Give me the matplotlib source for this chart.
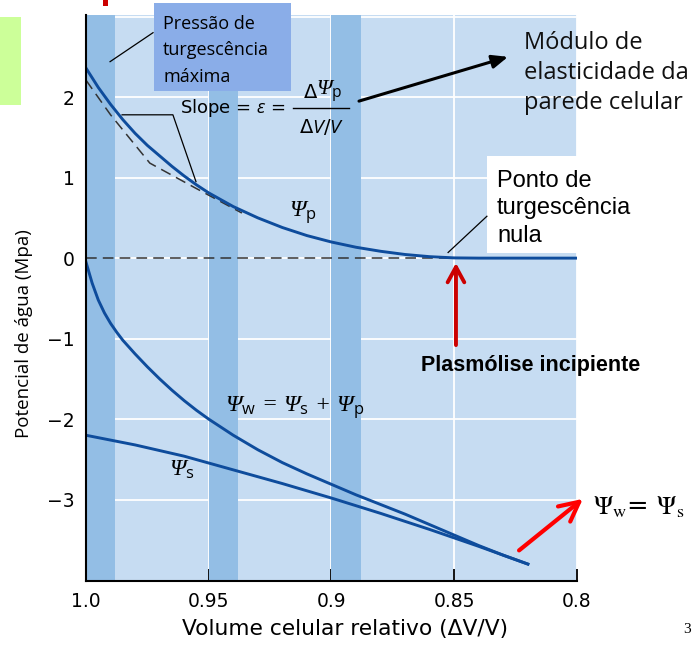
import matplotlib
matplotlib.use("Agg")
import matplotlib.pyplot as plt
from matplotlib.patches import Rectangle

plt.rcParams["font.family"] = ["DejaVu Sans"]
plt.rcParams["mathtext.fontset"] = "custom"
plt.rcParams["mathtext.rm"] = "Open Sans"
plt.rcParams["mathtext.it"] = "Open Sans:italic"
plt.rcParams["mathtext.bf"] = "Open Sans:bold"

# === Dados ===
vol_p = [1.0, 0.995, 0.99, 0.985, 0.98, 0.975, 0.97, 0.965, 0.96, 0.955, 0.95,
         0.94, 0.93, 0.92, 0.91, 0.90, 0.89, 0.88, 0.87, 0.86, 0.85, 0.84, 0.80]
psi_p = [2.36, 2.12, 1.91, 1.72, 1.55, 1.40, 1.27, 1.14, 1.02, 0.91, 0.81,
         0.64, 0.50, 0.38, 0.28, 0.20, 0.135, 0.085, 0.045, 0.018, 0.003, 0.0, 0.0]

vol_w = [1.0, 0.9975, 0.995, 0.9925, 0.99, 0.9875, 0.985, 0.98, 0.975, 0.97, 0.965,
         0.96, 0.955, 0.95, 0.94, 0.93, 0.92, 0.91, 0.90, 0.89, 0.88, 0.87, 0.86,
         0.85, 0.84, 0.83, 0.82]
psi_w = [-0.05, -0.31, -0.52, -0.68, -0.81, -0.92, -1.02, -1.19, -1.35, -1.50, -1.64,
         -1.77, -1.89, -2.0, -2.20, -2.38, -2.54, -2.68, -2.81, -2.94, -3.06, -3.18,
         -3.31, -3.44, -3.57, -3.69, -3.80]

vol_s = [1.0, 0.98, 0.96, 0.94, 0.92, 0.90, 0.88, 0.86, 0.84, 0.82]
psi_s = [-2.20, -2.32, -2.46, -2.63, -2.80, -2.98, -3.17, -3.37, -3.58, -3.80]

# tangente tracejada (slope)
vol_tan = [1.0, 0.990, 0.974, 0.956, 0.9365]
psi_tan = [2.21, 1.78, 1.18, 0.88, 0.56]

# linha do zero (tracejada)
vol_zero = [1.0, 0.85]
psi_zero = [0.0, 0.0]

band_starts = [1.0, 0.95, 0.90]
band_width = 0.012

x_ticks = [1.0, 0.95, 0.9, 0.85, 0.8]
x_labels = ["1.0", "0.95", "0.9", "0.85", "0.8"]
y_ticks = [-3, -2, -1, 0, 1, 2, 3]
y_labels = ["\u22123", "\u22122", "\u22121", "0", "1", "2", ""]

# === Cores ===
bg = "#C6DCF2"
band = "#93BEE5"
curve = "#0E4C9C"
box_blue = "#8AADE8"

fig = plt.figure(figsize=(6.93, 6.48), dpi=100)
ax = fig.add_axes([0.1241, 0.1034, 0.7085, 0.8735])
ax.set_facecolor(bg)
ax.set_xlim(1.0, 0.8)
ax.set_ylim(-4.01, 3.02)

ax.grid(color="white", lw=1.3)
ax.set_axisbelow(True)
for b in band_starts:
    ax.axvspan(b - band_width, b, color=band, lw=0, zorder=1)

for s in ["top", "right"]:
    ax.spines[s].set_visible(False)
for s in ["left", "bottom"]:
    ax.spines[s].set_linewidth(1.5)
    ax.spines[s].set_zorder(5)

ax.set_xticks(x_ticks)
ax.set_xticklabels(x_labels)
ax.set_yticks(y_ticks)
ax.set_yticklabels(y_labels)
ax.tick_params(direction="in", length=9, width=1.3, labelsize=13.5, pad=8)

# === Curvas ===
ax.plot(vol_zero, psi_zero, color="#333333", lw=1.1, dashes=(7, 4), zorder=2)
ax.plot(vol_tan, psi_tan, color="#333333", lw=1.1, dashes=(7, 4), zorder=2)
ax.plot(vol_p, psi_p, color=curve, lw=2.1, zorder=3)
ax.plot(vol_w, psi_w, color=curve, lw=2.1, zorder=3)
ax.plot(vol_s, psi_s, color=curve, lw=2.1, zorder=3)

# === Rótulos das curvas ===
psi_font = dict(style="italic", family="Liberation Serif", zorder=4)
ax.text(0.9116, 0.57, "\u03a8$_\\mathrm{p}$", fontsize=17, ha="center", va="center", **psi_font)
ax.text(0.9149, -1.86, "\u03a8$_\\mathrm{w}$ = \u03a8$_\\mathrm{s}$ + \u03a8$_\\mathrm{p}$",
        fontsize=17, ha="center", va="center", **psi_font)
ax.text(0.9609, -2.63, "\u03a8$_\\mathrm{s}$", fontsize=17, ha="center", va="center", **psi_font)

# === Caixa "Pressão de turgescência máxima" ===
ax.add_patch(Rectangle((0.9165, 2.07), 0.0558, 1.10, facecolor=box_blue, edgecolor="none",
                       clip_on=False, zorder=4))
ax.text(0.9686, 2.58, "Pressão de\nturgescência\nmáxima", family="Open Sans", fontsize=13,
        ha="left", va="center", linespacing=1.6, zorder=5, clip_on=False)
ax.plot([0.9902, 0.9727], [2.44, 2.80], color="black", lw=0.9, zorder=4)

# === Slope = epsilon = dPsi_p / (dV/V) ===
ax.text(0.9617, 1.86, r"Slope = $\varepsilon$ =", fontsize=13, ha="left", va="center", zorder=4)
ax.text(0.9060, 2.06, "\u0394", fontsize=14, ha="right", va="center", zorder=4)
ax.text(0.9062, 2.06, "\u03a8$_\\mathrm{p}$", fontsize=16, ha="left", va="center", **psi_font)
ax.plot([0.9157, 0.8928], [1.86, 1.86], color="black", lw=1.0, zorder=4)
ax.text(0.9040, 1.63, "\u0394$V$/$V$", fontsize=14, ha="center", va="center", zorder=4)
ax.plot([0.9853, 0.9646, 0.9552], [1.78, 1.78, 0.95], color="black", lw=0.9, zorder=4)

# === Módulo de elasticidade ===
ax.annotate("", xy=(0.8281, 2.50), xytext=(0.8888, 1.95),
            arrowprops=dict(arrowstyle="-|>,head_length=0.95,head_width=0.4", color="black",
                            lw=2.2, shrinkA=0, shrinkB=0), zorder=5)
ax.text(0.8216, 2.30, "Módulo de\nelasticidade da\nparede celular", family="Open Sans",
        fontsize=17, color="#111111", ha="left", va="center", linespacing=1.32, clip_on=False)

# === Ponto de turgescência nula ===
ax.add_patch(Rectangle((0.77, 0.06), 0.0667, 1.21, facecolor="white", edgecolor="none",
                       clip_on=False, zorder=4))
ax.text(0.8326, 0.62, "Ponto de\nturgescência\nnula", family="Liberation Sans", fontsize=17,
        ha="left", va="center", linespacing=1.33, zorder=5, clip_on=False)
ax.plot([0.8525, 0.8367], [0.07, 0.52], color="black", lw=0.9, zorder=4)

# === Plasmólise incipiente ===
ax.annotate("", xy=(0.8493, -0.06), xytext=(0.8493, -1.08),
            arrowprops=dict(arrowstyle="->,head_length=1.1,head_width=0.6", color="#CC0000",
                            lw=2.8, shrinkA=0, shrinkB=0), zorder=5)
ax.text(0.8187, -1.33, "Plasmólise incipiente", family="Liberation Sans", fontweight="bold",
        fontsize=15.5, ha="center", va="center", zorder=5, clip_on=False)

# === Psi_w = Psi_s ===
ax.annotate("", xy=(0.7976, -2.99), xytext=(0.8236, -3.63),
            arrowprops=dict(arrowstyle="->,head_length=1.4,head_width=0.7", color="#FF0000",
                            lw=3.0, shrinkA=0, shrinkB=0), zorder=5, annotation_clip=False)
ax.text(0.7935, -3.09, r"$\Psi_\mathrm{w}$= $\Psi_\mathrm{s}$", math_fontfamily="stix",
        fontsize=18.5, ha="left", va="center", clip_on=False)

# === Eixos ===
ax.set_xlabel("Volume celular relativo (\u0394V/V)", fontsize=15.7)
ax.xaxis.set_label_coords(0.527, -0.067)
ax.set_ylabel("Potencial de água (Mpa)", family="Open Sans", fontsize=13.5)
ax.yaxis.set_label_coords(-0.108, 0.438)

# elementos do slide
fig.patches.append(Rectangle((0.0, 0.838), 0.0303, 0.136, transform=fig.transFigure,
                             facecolor="#CCFF99", edgecolor="none"))
fig.patches.append(Rectangle((0.1486, 0.9907), 0.0072, 0.0093, transform=fig.transFigure,
                             facecolor="#CC0000", edgecolor="none"))
fig.text(0.986, 0.028, "3", family="Liberation Serif", fontsize=11, ha="left", va="center")

fig.savefig("out.png", dpi=100)
